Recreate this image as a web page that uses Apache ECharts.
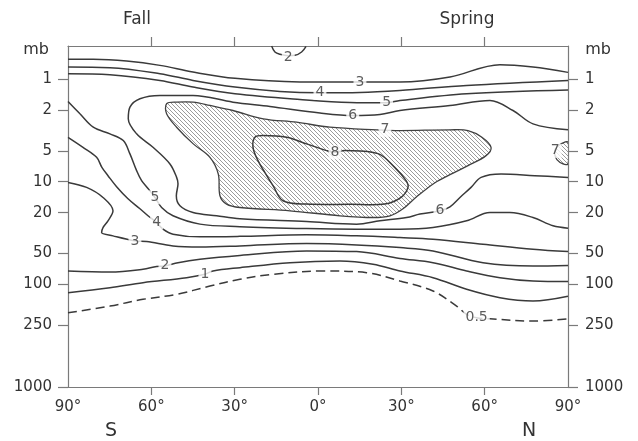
<!DOCTYPE html>
<html>
<head>
<meta charset="utf-8">
<script src="https://cdn.jsdelivr.net/npm/echarts@6/dist/echarts.min.js"></script>
<style>
html,body{margin:0;padding:0;background:#fff;}
#chart{width:638px;height:441px;}
</style>
</head>
<body>
<div id="chart"></div>
<script>
// ---- data: [latitude (deg, S negative), pressure (mb)] ----
const xTickValues = [-90, -60, -30, 0, 30, 60, 90];
const innerXTicks = [-60, -30, 0, 30, 60];
const pressureTicks = [1, 2, 5, 10, 20, 50, 100, 250, 1000];
const pressureTop = 0.476;
const pressureBottom = 1000;

const contour2Top = [[-16.7,0.476],[-15.5,0.545],[-13.7,0.574],[-10.7,0.593],[-8.3,0.587],[-5.9,0.545],[-4.3,0.479]];
const contour3Upper = [[-90,0.642],[-80.9,0.642],[-68.9,0.667],[-56.9,0.735],[-45.0,0.854],[-29.9,0.984],[-6.5,1.065],[15.1,1.07],[29.5,1.07],[47.5,0.956],[65.5,0.723],[77.4,0.763],[90,0.860]];
const contour4Upper = [[-90,0.763],[-74.9,0.774],[-56.9,0.886],[-45.0,1.03],[-29.9,1.197],[-13.7,1.319],[0.7,1.358],[15.1,1.349],[29.5,1.29],[53.5,1.152],[90,1.03]];
const contour5Upper = [[-90,0.886],[-74.9,0.906],[-56.9,1.03],[-45.0,1.197],[-29.9,1.389],[-6.5,1.579],[11.5,1.689],[24.7,1.70],[29.5,1.615],[53.5,1.389],[90,1.275]];
const contour6 = [[90,3.123],[77.4,2.729],[70.2,2.023],[61.9,1.615],[47.5,1.807],[29.5,2.023],[22.3,2.213],[12.5,2.263],[0.7,2.139],[-17.3,1.848],[-30.6,1.678],[-45.0,1.443],[-56.9,1.443],[-64.1,1.554],[-67.7,1.877],[-68.3,2.438],[-65.3,3.417],[-59.4,4.618],[-53.3,6.709],[-50.9,9.073],[-50.4,10.45],[-51.0,13.69],[-49.7,17.15],[-45.0,19.94],[-36.5,21.47],[-28.1,22.97],[-4.1,24.42],[13.9,25.89],[22.3,24.04],[31.9,22.32],[36.7,20.67],[43.9,19.19],[47.5,17.54],[51.1,14.23],[55.1,11.36],[58.7,9.073],[65.9,8.404],[78.0,8.73],[90,9.073]];
const contour5Lower = [[-90,1.652],[-85.7,2.178],[-80.9,2.944],[-74.9,3.417],[-70.1,3.972],[-67.7,5.358],[-65.3,7.802],[-63.5,9.77],[-61.2,11.62],[-58.7,14.23],[-56.3,17.82],[-52.2,21.47],[-42.5,25.89],[-28.1,27.39],[-4.1,28.58],[13.9,28.97],[29.5,28.97],[41.4,27.95],[53.5,24.04],[61.9,19.94],[69.1,19.94],[77.4,22.32],[84.6,26.9],[90,28.33]];
const contour4Lower = [[-90,3.688],[-84.6,4.618],[-79.7,5.783],[-77.8,7.244],[-75.6,8.73],[-72.5,11.18],[-68.4,14.65],[-64.1,18.35],[-61.2,21.47],[-58.1,24.97],[-55.8,28.97],[-52.2,32.42],[-42.5,34.45],[-28.1,34.06],[-4.1,32.94],[13.9,33.69],[29.5,34.99],[41.4,36.28],[59.4,40.6],[77.4,45.43],[90,47.96]];
const contour3Lower = [[-90,10.15],[-83.3,11.36],[-77.4,14.23],[-73.8,19.19],[-75.6,24.04],[-77.4,27.95],[-77.9,31.27],[-73.8,33.69],[-65.9,37.7],[-61.7,38.3],[-52.2,42.18],[-42.5,43.15],[-28.1,42.18],[-4.1,40.05],[13.9,41.24],[29.5,43.83],[41.4,47.21],[59.4,61.43],[77.4,66.16],[90,65.42]];
const contour2 = [[-90,74.03],[-74.9,75.72],[-63.0,71.26],[-58.1,66.91],[-55.1,66.16],[-50.4,61.43],[-42.5,56.9],[-28.1,52.24],[-4.1,47.21],[13.9,47.96],[29.5,55.89],[41.4,61.43],[53.5,74.03],[65.5,86.08],[77.4,92.71],[90,93.77]];
const contour1 = [[-90,120.6],[-74.9,107.8],[-63.0,96.34],[-47.3,86.08],[-40.7,79.74],[-37.8,74.03],[-28.1,68.74],[-10.1,61.43],[7.9,59.11],[19.8,63.68],[29.5,74.03],[41.4,86.08],[53.5,111.7],[65.5,135.0],[77.4,145.4],[90,130.8]];
const contour05 = [[-90,189.2],[-74.9,162.7],[-63.0,140.0],[-50.9,125.1],[-38.9,103.8],[-28.1,89.23],[-16.2,79.74],[1.8,74.03],[17.5,76.91],[29.5,92.71],[41.4,116.1],[49.9,162.7],[53.5,196.1],[57.1,211.8],[61.9,216.6],[77.4,228.0],[90,216.6]];
const region7 = [[-54.5,1.739],[-50.9,1.678],[-44.9,1.678],[-38.9,1.807],[-30.6,2.023],[-19.7,2.438],[-7.7,2.632],[4.3,2.944],[21.1,3.123],[29.5,3.172],[47.5,3.123],[54.0,3.172],[59.0,3.688],[62.3,4.618],[60.5,5.567],[54.0,6.973],[47.5,8.537],[42.1,10.22],[35.5,14.01],[30.6,18.35],[25.9,21.47],[19.8,22.32],[7.9,21.47],[-10.1,19.19],[-28.1,17.82],[-32.9,16.51],[-35.3,13.69],[-35.9,8.404],[-38.9,5.783],[-44.9,4.278],[-50.9,2.944],[-54.5,2.178]];
const region7Small = [[90,4.127],[87.5,4.278],[85.5,4.756],[85.2,5.358],[86.0,6.09],[88.2,6.709],[90,6.709]];
const contour8 = [[-22.7,3.688],[-19.7,3.549],[-11.3,3.688],[-4.1,4.278],[3.1,4.976],[6.1,5.169],[9.7,4.976],[21.6,5.323],[27.6,7.244],[31.7,9.77],[32.4,11.36],[29.9,14.23],[24.0,16.51],[11.5,16.58],[-4.1,16.51],[-12.6,15.33],[-16.2,10.93],[-19.1,8.162],[-21.6,6.23],[-23.4,4.618]];
const contourLabels = [
  [-10.7,0.61,'2'],[15.1,1.07,'3'],[0.7,1.36,'4'],[24.7,1.68,'5'],[12.5,2.26,'6'],
  [24.1,3.12,'7'],[6.1,5.17,'8'],[43.9,19.2,'6'],[-58.7,14.2,'5'],[-58.1,25,'4'],
  [-65.9,37.7,'3'],[-55.1,66,'2'],[-40.7,79.7,'1'],[57.1,212,'0.5'],[85.4,5.0,'7']
];

// ---- helpers ----
const lg = v => Math.log10(v);
const toXY = arr => arr.map(d => [d[0], lg(d[1])]);
const FONT = '"DejaVu Sans", "Liberation Sans", sans-serif';
const LINE = '#3a3a3a';
const AXIS = '#7a7a7a';
const TEXT = '#333';

function hatchPattern() {
  const s = 4;
  const c = document.createElement('canvas');
  c.width = s; c.height = s;
  const ctx = c.getContext('2d');
  ctx.strokeStyle = 'rgba(95,95,95,0.7)';
  ctx.lineWidth = 0.9;
  ctx.beginPath();
  ctx.moveTo(-1, -1); ctx.lineTo(s + 1, s + 1);
  ctx.moveTo(s - 1, -1); ctx.lineTo(s + 1, 1);
  ctx.moveTo(-1, s - 1); ctx.lineTo(1, s + 1);
  ctx.stroke();
  return { image: c, repeat: 'repeat' };
}
const hatch = hatchPattern();

function polySeries(name, pts, fill, stroke, width) {
  const data = toXY(pts);
  return {
    name, type: 'custom', coordinateSystem: 'cartesian2d', clip: true, z: 2,
    data: data,
    encode: { x: 0, y: 1 },
    renderItem: function (params, api) {
      if (params.dataIndex !== 0) return;
      const points = data.map(d => api.coord(d));
      return {
        type: 'polygon',
        shape: { points: points, smooth: 0.35 },
        style: { fill: fill, stroke: stroke, lineWidth: width }
      };
    }
  };
}

function lineSeries(name, pts, dashed) {
  return {
    name, type: 'line', data: toXY(pts), smooth: 0.35, showSymbol: false, symbol: 'none',
    z: 3, silent: true,
    lineStyle: { color: LINE, width: 1.5, type: dashed ? [9, 5] : 'solid' }
  };
}

const yAxisBase = {
  type: 'value', inverse: true, min: lg(pressureTop), max: lg(pressureBottom),
  splitLine: { show: false },
  axisLine: { show: true, onZero: false, lineStyle: { color: AXIS, width: 1.2 } },
  axisTick: { show: true, inside: false, length: 10, customValues: pressureTicks.map(lg), lineStyle: { color: AXIS, width: 1.2 } },
  axisLabel: {
    show: true, customValues: pressureTicks.map(lg), margin: 16,
    fontFamily: FONT, fontSize: 15, color: TEXT,
    formatter: v => String(Math.round(Math.pow(10, v)))
  }
};

const chart = echarts.init(document.getElementById('chart'), null, { renderer: 'canvas' });
chart.setOption({
  animation: false,
  backgroundColor: '#fff',
  grid: { left: 68, right: 70, top: 46, bottom: 54, outerBoundsMode: 'none' },
  xAxis: [
    {
      type: 'value', position: 'bottom', min: -90, max: 90, interval: 30,
      splitLine: { show: false },
      axisLine: { show: true, onZero: false, lineStyle: { color: AXIS, width: 1.2 } },
      axisTick: { show: true, inside: false, length: 8, customValues: innerXTicks, lineStyle: { color: AXIS, width: 1.2 } },
      axisLabel: { show: true, customValues: xTickValues, margin: 13, fontFamily: FONT, fontSize: 15, color: TEXT, formatter: v => Math.abs(v) + '°' }
    },
    {
      type: 'value', position: 'top', min: -90, max: 90, interval: 30,
      splitLine: { show: false },
      axisLine: { show: true, onZero: false, lineStyle: { color: AXIS, width: 1.2 } },
      axisTick: { show: true, inside: false, length: 9, customValues: innerXTicks, lineStyle: { color: AXIS, width: 1.2 } },
      axisLabel: { show: false }
    }
  ],
  yAxis: [
    Object.assign({}, yAxisBase, { position: 'left' }),
    Object.assign({}, yAxisBase, { position: 'right', axisLabel: Object.assign({}, yAxisBase.axisLabel, { margin: 17 }) })
  ],
  graphic: [
    { type: 'text', x: 137, y: 20, style: { text: 'Fall', font: '17px ' + FONT, fill: TEXT, align: 'center', verticalAlign: 'middle', textAlign: 'center', textVerticalAlign: 'middle' } },
    { type: 'text', x: 467, y: 20, style: { text: 'Spring', font: '17px ' + FONT, fill: TEXT, align: 'center', verticalAlign: 'middle', textAlign: 'center', textVerticalAlign: 'middle' } },
    { type: 'text', x: 36, y: 50, style: { text: 'mb', font: '16px ' + FONT, fill: TEXT, align: 'center', verticalAlign: 'middle', textAlign: 'center', textVerticalAlign: 'middle' } },
    { type: 'text', x: 598, y: 50, style: { text: 'mb', font: '16px ' + FONT, fill: TEXT, align: 'center', verticalAlign: 'middle', textAlign: 'center', textVerticalAlign: 'middle' } },
    { type: 'text', x: 111, y: 431, style: { text: 'S', font: '19px ' + FONT, fill: TEXT, align: 'center', verticalAlign: 'middle', textAlign: 'center', textVerticalAlign: 'middle' } },
    { type: 'text', x: 529, y: 431, style: { text: 'N', font: '19px ' + FONT, fill: TEXT, align: 'center', verticalAlign: 'middle', textAlign: 'center', textVerticalAlign: 'middle' } }
  ],
  series: [
    polySeries('7', region7, hatch, '#404040', 1.3),
    polySeries('7 small', region7Small, hatch, '#404040', 1.3),
    polySeries('8', contour8, 'rgba(0,0,0,0)', LINE, 1.5),
    lineSeries('2 top', contour2Top),
    lineSeries('3 upper', contour3Upper),
    lineSeries('4 upper', contour4Upper),
    lineSeries('5 upper', contour5Upper),
    lineSeries('6', contour6),
    lineSeries('5 lower', contour5Lower),
    lineSeries('4 lower', contour4Lower),
    lineSeries('3 lower', contour3Lower),
    lineSeries('2', contour2),
    lineSeries('1', contour1),
    lineSeries('0.5', contour05, true),
    {
      name: 'labels', type: 'scatter', z: 10, silent: true,
      symbol: 'circle', symbolSize: 1,
      itemStyle: { color: 'rgba(0,0,0,0)' },
      data: contourLabels.map(d => [d[0], lg(d[1]), d[2]]),
      label: {
        show: true, position: 'inside', formatter: p => p.data[2],
        fontFamily: FONT, fontSize: 14, color: TEXT,
        backgroundColor: '#fff', padding: [0, 2]
      }
    }
  ]
});
</script>
</body>
</html>
